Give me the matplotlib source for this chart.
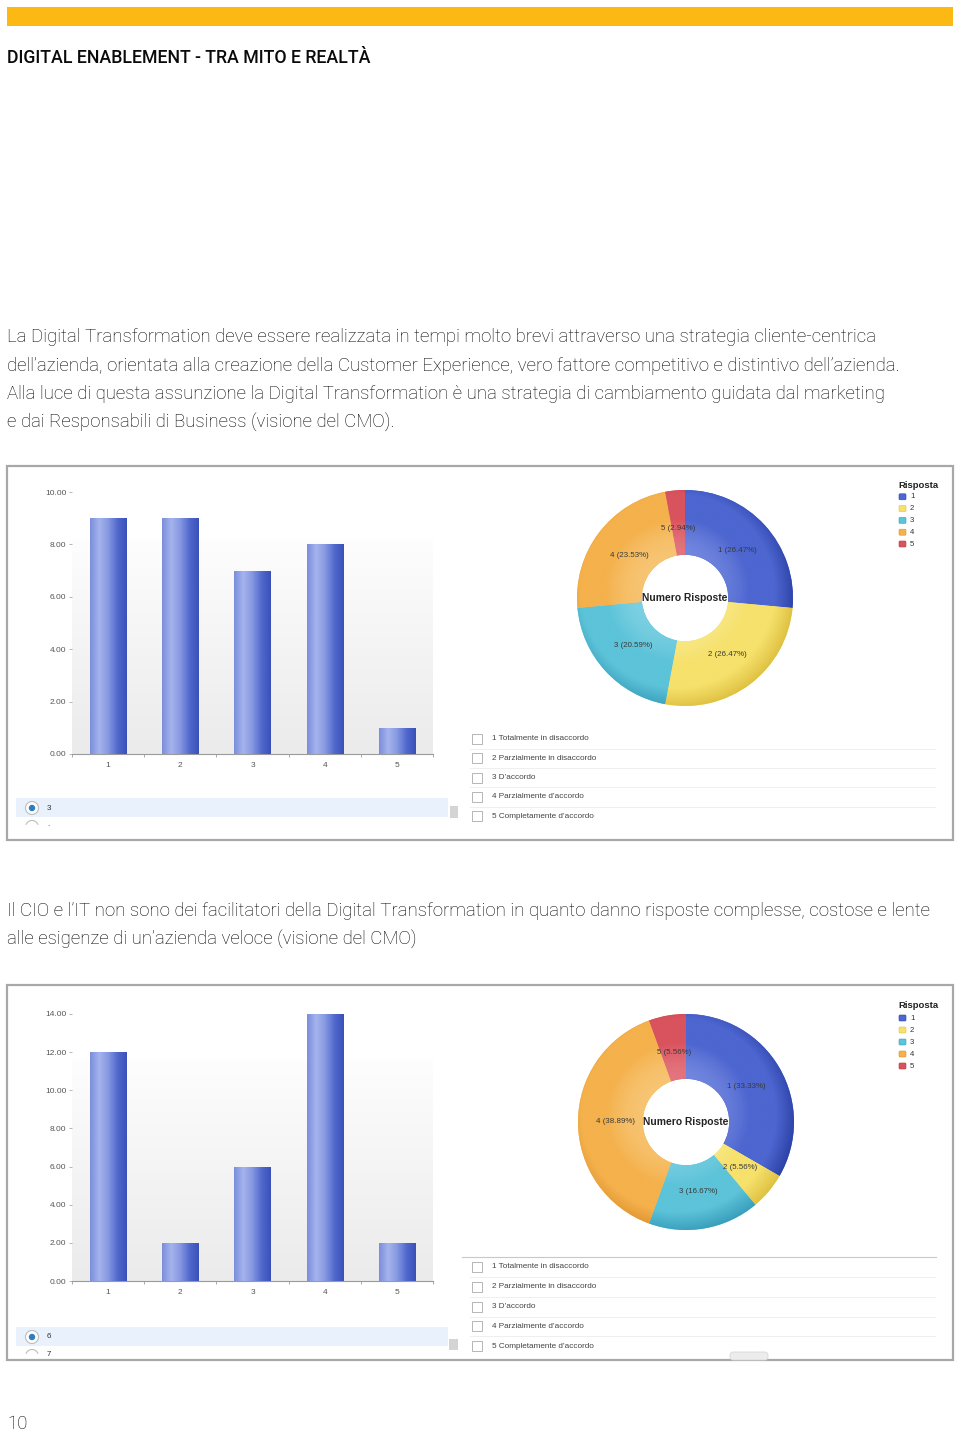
import numpy as np
import matplotlib
matplotlib.use("Agg")
import matplotlib.pyplot as plt
from matplotlib.patches import Rectangle, Circle, Arc, FancyBboxPatch
from matplotlib.colors import LinearSegmentedColormap

W, H = 960, 1432

# ---- page text ----
title = "DIGITAL ENABLEMENT - TRA MITO E REALTÀ"
para1 = [
    "La Digital Transformation deve essere realizzata in tempi molto brevi attraverso una strategia cliente-centrica",
    "dell’azienda, orientata alla creazione della Customer Experience, vero fattore competitivo e distintivo dell’azienda.",
    "Alla luce di questa assunzione la Digital Transformation è una strategia di cambiamento guidata dal marketing",
    "e dai Responsabili di Business (visione del CMO).",
]
para2 = [
    "Il CIO e l’IT non sono dei facilitatori della Digital Transformation in quanto danno risposte complesse, costose e lente",
    "alle esigenze di un’azienda veloce (visione del CMO)",
]
page_no = "10"

# ---- chart data ----
categories = ["1", "2", "3", "4", "5"]
answers = ["1 Totalmente in disaccordo", "2 Parzialmente in disaccordo", "3 D’accordo",
           "4 Parzialmente d’accordo", "5 Completamente d’accordo"]
counts_q1 = [9, 9, 7, 8, 1]
counts_q2 = [12, 2, 6, 14, 2]
yticks_q1 = [0, 2, 4, 6, 8, 10]
yticks_q2 = [0, 2, 4, 6, 8, 10, 12, 14]
radio_q1 = ["3", "."]
radio_q2 = ["6", "7"]
centre_label = "Numero Risposte"
legend_title = "Risposta"

# light / base / dark per slice
slice_colors = [
    ("#8294e4", "#4d66d0", "#2d43a8"),
    ("#faeea0", "#f6e16c", "#dfc243"),
    ("#8bd6e6", "#5cc3d9", "#3a9fbc"),
    ("#f8ca7e", "#f4b14c", "#df922d"),
    ("#e6818a", "#d9535d", "#b73743"),
]
bar_cmap = LinearSegmentedColormap.from_list(
    "bar", ["#7c8fdc", "#a6b4ed", "#8597e1", "#5169cd", "#3a51ba"])
panel_cmap = LinearSegmentedColormap.from_list("panel", ["#ebebeb", "#fdfdfd"])

PAGE_FONT = ["Roboto", "DejaVu Sans"]
UI_FONT = ["Liberation Sans", "DejaVu Sans"]
BODY_SIZE = 13.4

fig = plt.figure(figsize=(W / 100, H / 100), dpi=100)
bg = fig.add_axes([0, 0, 1, 1])
bg.set_xlim(0, W)
bg.set_ylim(H, 0)
bg.axis("off")


def px_axes(left, top, right, bottom):
    return fig.add_axes([left / W, 1 - bottom / H, (right - left) / W, (bottom - top) / H])


# header
bg.add_patch(Rectangle((7, 7), 946, 19, color="#fdb913", lw=0))
bg.text(7, 58, title, fontsize=12.8, family=PAGE_FONT, weight="medium",
        color="#0a0a0a", va="center", ha="left")
for i, line in enumerate(para1):
    bg.text(7, 337 + i * 28.6, line, fontsize=BODY_SIZE, family=PAGE_FONT, weight="light",
            color="#000000", va="center", ha="left")
for i, line in enumerate(para2):
    bg.text(7, 911 + i * 28.6, line, fontsize=BODY_SIZE, family=PAGE_FONT, weight="light",
            color="#000000", va="center", ha="left")
bg.text(7, 1424, page_no, fontsize=BODY_SIZE, family=PAGE_FONT, weight="light",
        color="#000000", va="center", ha="left")


def draw_bars(ax, counts, yticks, panel_frac):
    x = np.arange(1, len(counts) + 1)
    bars = ax.bar(x, counts, width=0.5, color="#6b80d6", edgecolor="none", zorder=2)
    grad = np.linspace(0, 1, 64).reshape(1, -1)
    for b in bars:
        im = ax.imshow(grad, extent=(b.get_x(), b.get_x() + b.get_width(), 0, b.get_height()),
                       aspect="auto", cmap=bar_cmap, zorder=3)
        im.set_clip_path(b)
    pg = np.linspace(0, 1, 64).reshape(-1, 1)
    ax.imshow(pg, extent=(0, 1, 0, panel_frac), origin="lower", transform=ax.transAxes,
              aspect="auto", cmap=panel_cmap, zorder=0)
    ax.set_xlim(0.5, len(counts) + 0.5)
    ax.set_ylim(0, yticks[-1])
    ax.set_facecolor("none")
    for s in ("top", "right", "left"):
        ax.spines[s].set_visible(False)
    ax.spines["bottom"].set_color("#9a9a9a")
    ax.spines["bottom"].set_linewidth(0.8)
    ax.set_yticks(yticks)
    ax.set_yticklabels([f"{v:.2f}" for v in yticks])
    ax.set_xticks(x)
    ax.set_xticklabels(categories)
    ax.set_xticks(np.arange(0.5, len(counts) + 1), minor=True)
    ax.tick_params(axis="y", length=2.5, width=0.6, color="#aaaaaa", labelsize=6,
                   labelcolor="#555555", pad=1.5)
    ax.tick_params(axis="x", which="major", length=0, labelsize=6, labelcolor="#555555", pad=6)
    ax.tick_params(axis="x", which="minor", length=2.5, width=0.6, color="#999999")
    for t in ax.get_xticklabels() + ax.get_yticklabels():
        t.set_family(UI_FONT)


def draw_donut(ax, counts):
    total = sum(counts)
    labels = [f"{c} ({v / total * 100:.2f}%)" for c, v in zip(categories, counts)]
    wedges, texts = ax.pie(counts, colors=[c[1] for c in slice_colors], startangle=90,
                           counterclock=False, radius=1, labels=labels, labeldistance=0.65,
                           wedgeprops=dict(width=0.6, edgecolor="none"),
                           textprops=dict(fontsize=5.7, color="#3a3a3a", family=UI_FONT))
    n = 300
    xs = np.linspace(-1, 1, n)
    X, Y = np.meshgrid(xs, xs)
    R = np.hypot(X, Y)
    shade = 0.7 * np.clip((R - 0.4) / 0.6, 0, 1) ** 1.6 + 0.3 * np.clip((X - Y + 1.2) / 2.4, 0, 1)
    for w, (light, base, dark) in zip(wedges, slice_colors):
        cmap = LinearSegmentedColormap.from_list("s", [light, base, base, dark])
        im = ax.imshow(shade, extent=(-1, 1, -1, 1), origin="lower", cmap=cmap,
                       vmin=0, vmax=1, zorder=1.5)
        im.set_clip_path(w)
    for t in texts:
        t.set_ha("center")
        t.set_va("center")
        t.set_zorder(5)
    ax.text(0, 0, centre_label, ha="center", va="center", fontsize=7.4, weight="bold",
            color="#222222", family=UI_FONT, zorder=5)
    ax.set_xlim(-1, 1)
    ax.set_ylim(-1, 1)
    ax.set_aspect("equal")
    ax.axis("off")


def draw_block(top, bottom, y0, ytop, counts, yticks, panel_top, radio, radio_y,
               thumb, pie_c, leg_y, leg_step, rows_y, rows_step, rule_y=None, button=None):
    bg.add_patch(Rectangle((7, top), 946, bottom - top, fill=False, ec="#a8a8a8", lw=1.6))
    ax = px_axes(72, ytop, 433, y0)
    draw_bars(ax, counts, yticks, (y0 - panel_top) / (y0 - ytop))

    # radio list
    bg.add_patch(Rectangle((16, radio_y - 10), 432, 19, color="#e9f2fc", lw=0))
    bg.add_patch(Circle((32, radio_y), 6.5, fc="white", ec="#bdbdbd", lw=0.8))
    bg.add_patch(Circle((32, radio_y), 3.2, fc="#2f7dbf", ec="none"))
    bg.text(47, radio_y, radio[0], fontsize=5.8, family=UI_FONT, color="#333333", va="center")
    bg.add_patch(Arc((32, radio_y + 19), 13, 13, theta1=200, theta2=340, ec="#bdbdbd", lw=0.8))
    bg.text(47, radio_y + 17, radio[1], fontsize=5.8, family=UI_FONT, color="#333333", va="center")
    bg.add_patch(Rectangle(thumb[:2], thumb[2], thumb[3], color="#d4d4d4", lw=0))

    # donut
    cx, cy = pie_c
    pax = px_axes(cx - 108, cy - 108, cx + 108, cy + 108)
    draw_donut(pax, counts)

    # legend
    bg.text(898, leg_y, legend_title, fontsize=6.8, weight="bold", family=UI_FONT,
            color="#222222", va="center", ha="left")
    for i, c in enumerate(categories):
        yy = leg_y + leg_step * (i + 1)
        bg.add_patch(FancyBboxPatch((899, yy - 3), 7, 6, boxstyle="round,pad=0,rounding_size=1",
                                    fc=slice_colors[i][1], ec=slice_colors[i][2], lw=0.4))
        bg.text(910, yy, c, fontsize=5.6, family=UI_FONT, color="#333333", va="center")

    # answer check list
    if rule_y is not None:
        bg.plot([462, 936], [rule_y, rule_y], color="#c8c8c8", lw=0.8)
    for i, a in enumerate(answers):
        yy = rows_y + rows_step * i
        bg.add_patch(Rectangle((472, yy - 5), 10, 10, fc="white", ec="#b5b5b5", lw=0.7))
        bg.text(492, yy, a, fontsize=5.85, family=UI_FONT, color="#444444", va="center")
        if i < len(answers) - 1:
            sy = yy + rows_step / 2
            bg.plot([470, 935], [sy, sy], color="#ececec", lw=0.6)
    if button is not None:
        bg.add_patch(FancyBboxPatch(button[:2], button[2], button[3],
                                    boxstyle="round,pad=0,rounding_size=3",
                                    fc="#ececec", ec="#d8d8d8", lw=0.6))


draw_block(466, 840, 754, 492, counts_q1, yticks_q1, 540, radio_q1, 808,
           (450, 806, 8, 12), (685, 598), 485, 11.8, 739, 19.3)
draw_block(985, 1360, 1281, 1014, counts_q2, yticks_q2, 1060, radio_q2, 1337,
           (449, 1339, 9, 11), (686, 1122), 1006, 12, 1267, 19.8,
           rule_y=1257, button=(730, 1352, 38, 8))

fig.savefig("out.png", dpi=100)
